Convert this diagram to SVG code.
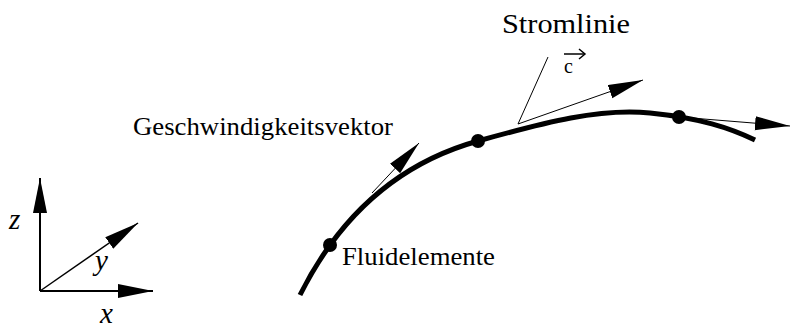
<svg xmlns="http://www.w3.org/2000/svg" width="790" height="329" viewBox="0 0 790 329">
<style>
.t{fill:#000}
.it{font-style:italic}
.ax{stroke:#000;stroke-width:2;fill:none}
.thin{stroke:#000;stroke-width:1;fill:none}
.curve{stroke:#000;stroke-width:5;fill:none}
.dot{fill:#000}
</style>
<defs>
<marker id="ah" markerUnits="userSpaceOnUse" markerWidth="36" markerHeight="15" refX="35" refY="7" orient="auto">
<path d="M0,0 L35,7 L0,14 Z" fill="#000"/>
</marker>
</defs>
<rect width="790" height="329" fill="#fff"/>
<g id="axes" font-family="Liberation Serif, serif">
<line class="ax" x1="40" y1="291" x2="40" y2="178" marker-end="url(#ah)"/>
<line class="ax" x1="40" y1="291" x2="153" y2="291" marker-end="url(#ah)"/>
<line class="thin" x1="40" y1="291" x2="138" y2="223" marker-end="url(#ah)" style="stroke-width:1.5"/>
<text class="t it" x="9" y="229" font-size="29">z</text>
<text class="t it" x="95" y="270" font-size="29">y</text>
<text class="t it" x="100" y="323" font-size="29">x</text>
</g>
<g id="stromlinie">
<path class="curve" d="M300,295 C345,205 410,160 478,141 S600,108 650,113 S730,128 755,140"/>
</g>
<g id="fluidelement1"><circle class="dot" cx="330" cy="245" r="7"/></g>
<g id="fluidelement2"><circle class="dot" cx="478" cy="141" r="7"/></g>
<g id="fluidelement3"><circle class="dot" cx="679" cy="117" r="7"/></g>
<g id="connectors">
<line class="thin" x1="372" y1="193" x2="419" y2="143" marker-end="url(#ah)"/>
<line class="thin" x1="518" y1="124" x2="643" y2="80" marker-end="url(#ah)"/>
<line class="thin" x1="679" y1="117" x2="790" y2="126" marker-end="url(#ah)"/>
<line class="thin" x1="548" y1="57" x2="518" y2="124"/>
</g>
<g id="labels" font-family="Liberation Serif, serif">
<text class="t" x="502" y="33" font-size="27" textLength="128" lengthAdjust="spacingAndGlyphs">Stromlinie</text>
<text class="t" x="133" y="135" font-size="26" textLength="260" lengthAdjust="spacingAndGlyphs">Geschwindigkeitsvektor</text>
<text class="t" x="342" y="265" font-size="26" textLength="153" lengthAdjust="spacingAndGlyphs">Fluidelemente</text>
<text class="t" x="564" y="73" font-size="20">c</text>
<line x1="564" y1="54" x2="585" y2="54" stroke="#000" stroke-width="1.5"/>
<path d="M579,49 L585,54 L579,59" stroke="#000" stroke-width="1.5" fill="none"/>
</g>
</svg>
